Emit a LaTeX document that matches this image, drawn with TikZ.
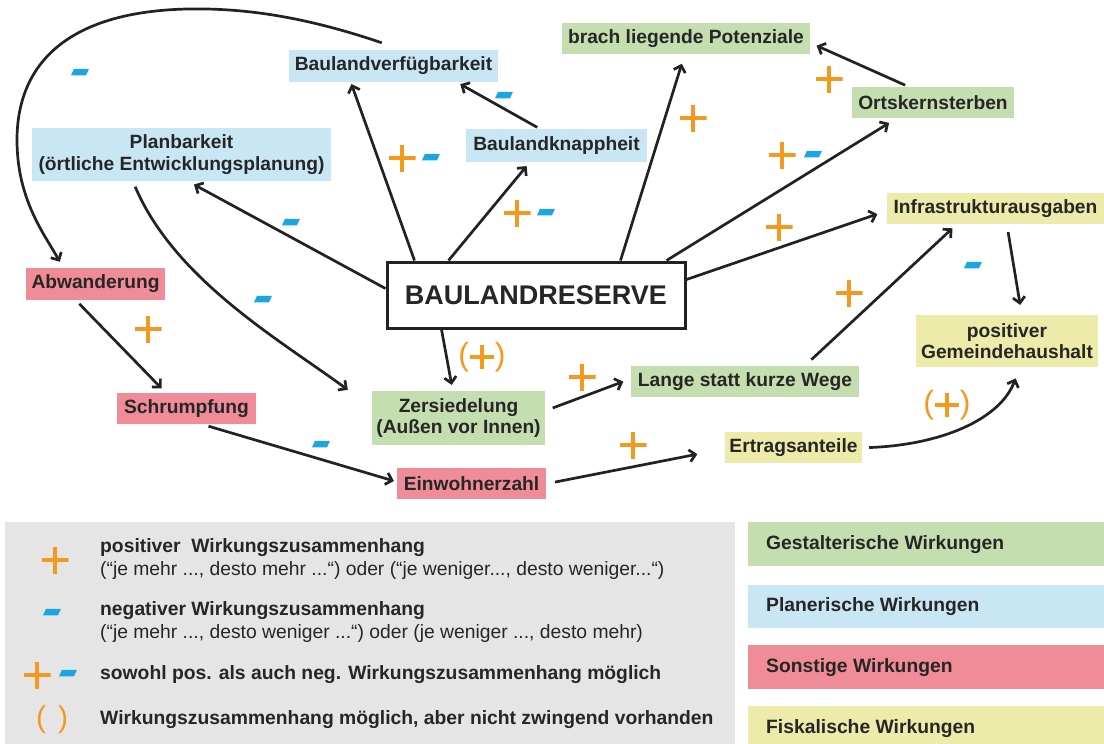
\documentclass[tikz,border=0pt]{standalone}
\usepackage{fontspec}
\setmainfont{Liberation Sans}
\usetikzlibrary{arrows.meta,calc}
\definecolor{cgreen}{HTML}{C4DEB0}
\definecolor{cblue}{HTML}{C8E6F4}
\definecolor{cred}{HTML}{F08C98}
\definecolor{cyellow}{HTML}{EDEBAA}
\definecolor{corange}{HTML}{F39A1E}
\definecolor{cdash}{HTML}{1AA7E1}
\definecolor{cline}{HTML}{222222}
\definecolor{ctext}{HTML}{262626}
\definecolor{cgray}{HTML}{E6E5E6}
\tikzset{
  box/.style={font=\bfseries\fontsize{19.2}{21.5}\selectfont, text=ctext, inner sep=0pt, align=center},
  gbox/.style={box, fill=cgreen},
  bbox/.style={box, fill=cblue},
  rbox/.style={box, fill=cred},
  ybox/.style={box, fill=cyellow},
  arr/.style={draw=cline, line width=2.7pt, -{Straight Barb[length=6pt,width=12pt]}},
  pl/.style={minimum size=27pt, inner sep=0pt, path picture={
    \draw[corange, line width=4.6pt]
      ([yshift=13.5pt]path picture bounding box.center) -- ([yshift=-13.5pt]path picture bounding box.center)
      ([xshift=-13.5pt]path picture bounding box.center) -- ([xshift=13.5pt]path picture bounding box.center);}},
  mi/.style={fill=cdash, minimum width=15pt, minimum height=6.5pt, inner sep=0pt, xslant=0.45},
  plp/.style={font=\fontsize{32}{34}\selectfont, text=corange, inner sep=0pt, path picture={
    \draw[corange, line width=4.4pt]
      ([yshift=12pt]path picture bounding box.center) -- ([yshift=-12pt]path picture bounding box.center)
      ([xshift=-12pt]path picture bounding box.center) -- ([xshift=12pt]path picture bounding box.center);}},
  legb/.style={anchor=west, font=\bfseries\fontsize{19.3}{22}\selectfont, text=ctext, inner sep=0pt},
  legn/.style={anchor=west, font=\fontsize{19.3}{22}\selectfont, text=ctext, inner sep=0pt},
  catbox/.style={anchor=north west, minimum width=356pt, inner sep=0pt},
  catt/.style={anchor=west, font=\bfseries\fontsize{19.3}{22}\selectfont, text=ctext, inner sep=0pt},
}
\begin{document}
\begin{tikzpicture}[x=1pt,y=-1pt]
\useasboundingbox (0,0) rectangle (1104,744);
\fill[white] (0,0) rectangle (1104,744);

% nodes
\node[bbox, minimum width=209pt, minimum height=32pt] (bv) at (393.5,66) {Baulandverfügbarkeit};
\node[bbox, minimum width=299pt, minimum height=53pt] (pb) at (181.5,154.5) {Planbarkeit\\(örtliche Entwicklungsplanung)};
\node[bbox, minimum width=181pt, minimum height=33pt] (bk) at (556.5,145.5) {Baulandknappheit};
\node[gbox, minimum width=248pt, minimum height=31pt] (br) at (686,38.5) {brach liegende Potenziale};
\node[gbox, minimum width=162pt, minimum height=31pt] (ok) at (933,102.5) {Ortskernsterben};
\node[ybox, minimum width=217pt, minimum height=31pt] (ii) at (995.5,208.5) {Infrastrukturausgaben};
\node[rbox, minimum width=139pt, minimum height=32pt] (ab) at (95.5,284) {Abwanderung};
\node[draw=cline, line width=3pt, fill=white, inner sep=0pt, minimum width=298pt, minimum height=66pt,
      font=\bfseries\fontsize{27}{30}\selectfont, text=ctext] (res) at (536,295) {BAULANDRESERVE};
\node[ybox, minimum width=182pt, minimum height=52pt] (pg) at (1007,341) {positiver\\Gemeindehaushalt};
\node[rbox, minimum width=139pt, minimum height=31pt] (sch) at (186.5,408.5) {Schrumpfung};
\node[gbox, minimum width=173pt, minimum height=54pt] (zs) at (458.5,418) {Zersiedelung\\(Außen vor Innen)};
\node[gbox, minimum width=228pt, minimum height=31pt] (lw) at (745,381.5) {Lange statt kurze Wege};
\node[ybox, minimum width=137pt, minimum height=31pt] (ea) at (793.5,447.5) {Ertragsanteile};
\node[rbox, minimum width=149pt, minimum height=31pt] (ew) at (471.5,483.5) {Einwohnerzahl};

% arrows
\draw[arr] ([xshift=93pt,yshift=7pt]bv.north west) .. controls (300,15) and (240,8) .. (187,9)
           .. controls (60,12) and (17,70) .. (17,140)
           .. controls (17,200) and (45,235) .. ([xshift=34pt,yshift=6pt]ab.north west);
\draw[arr, shorten >=2pt] ([xshift=29pt]res.north west) -- ([xshift=62pt]bv.south west);
\draw[arr, shorten <=3pt, shorten >=4pt] ([xshift=74pt]bk.north west) -- ([xshift=168pt]bv.south west);
\draw[arr, shorten >=5pt] ([xshift=63pt]res.north west) -- ([xshift=64pt]bk.south west);
\draw[arr, shorten >=7pt] ([yshift=-28pt]res.north west) -- ([xshift=156pt]pb.south west);
\draw[arr, shorten <=6pt] ([xshift=101pt]pb.south west) .. controls (175,280) and (280,340) .. ([xshift=-24pt,yshift=1pt]zs.north west);
\draw[arr, shorten >=10pt] ([xshift=235pt]res.north west) -- ([xshift=123pt]br.south west);
\draw[arr, shorten >=9pt] ([xshift=281pt]res.north west) -- ([xshift=45pt]ok.south west);
\draw[arr, shorten >=10pt] ([yshift=-19pt]res.north east) -- ([yshift=-18pt]ii.north west);
\draw[arr, shorten <=4pt, shorten >=7pt] ([xshift=57pt]ok.north west) -- ([yshift=-20pt]br.north east);
\draw[arr, shorten <=8pt, shorten >=10pt] ([xshift=120pt]ii.south west) -- ([xshift=106pt]pg.north west);
\draw[arr, shorten <=9pt, shorten >=6pt] ([xshift=174pt]lw.north west) -- ([xshift=70pt]ii.south west);
\draw[arr, shorten >=6pt] ([xshift=56pt]res.south west) -- ([xshift=81pt]zs.north west);
\draw[arr, shorten <=8pt, shorten >=8pt] ([yshift=-20pt]zs.north east) -- ([yshift=-13pt]lw.north west);
\draw[arr, shorten <=5pt, shorten >=6pt] ([xshift=50pt]ab.south west) -- ([xshift=49pt]sch.north west);
\draw[arr, shorten <=7pt, shorten >=3pt] ([xshift=85pt]sch.south west) -- ([yshift=-14pt]ew.north west);
\draw[arr, shorten <=9pt, shorten >=28pt] ([yshift=-16pt]ew.north east) -- ([yshift=-17pt]ea.north west);
\draw[arr, shorten <=7pt, shorten >=12pt] ([yshift=-16pt]ea.north east) .. controls (940,445) and (1000,420) .. ([xshift=104pt]pg.south west);

% labels
\node[mi] (l1) at (80,72) {};
\node[pl] (l2p) at (402,158) {};
\node[mi] (l2m) at (431,157) {};
\node[mi] (l3) at (504,95) {};
\node[pl] (l4p) at (517,213) {};
\node[mi] (l4m) at (546,212) {};
\node[mi] (l5) at (291,222) {};
\node[mi] (l6) at (263,299) {};
\node[pl] (l7) at (693,118) {};
\node[pl] (l8p) at (782,155) {};
\node[mi] (l8m) at (813,154) {};
\node[pl] (l9) at (779,227) {};
\node[pl] (l10) at (829,79) {};
\node[mi] (l11) at (973,265) {};
\node[pl] (l12) at (849,293) {};
\node[plp] (l13) at (482,357) {(\hspace{26pt})};
\node[pl] (l14) at (582,377) {};
\node[pl] (l15) at (148,329) {};
\node[mi] (l16) at (321,444) {};
\node[pl] (l17) at (633,445) {};
\node[plp] (l18) at (947,405) {(\hspace{26pt})};

% legend
\fill[cgray] (5,522) rectangle (735,744);
\node[pl] (k1) at (55,560) {};
\node[legb] (k1a) at (100,548) {positiver\ \ Wirkungszusammenhang};
\node[legn] (k1b) at (100,571) {(“je mehr ..., desto mehr ...“) oder (“je weniger..., desto weniger...“)};
\node[mi] (k2) at (52,612) {};
\node[legb] (k2a) at (100,611) {negativer Wirkungszusammenhang};
\node[legn] (k2b) at (100,634) {(“je mehr ..., desto weniger ...“) oder (je weniger ..., desto mehr)};
\node[pl] (k3p) at (37,675) {};
\node[mi] (k3m) at (68,673) {};
\node[legb] (k3a) at (100,675) {sowohl pos. als auch neg. Wirkungszusammenhang möglich};
\node[font=\fontsize{30}{32}\selectfont, text=corange, inner sep=0pt] (k4) at (52,720) {(\hspace{12pt})};
\node[legb] (k4a) at (100,720) {Wirkungszusammenhang möglich, aber nicht zwingend vorhanden};

\node[catbox, fill=cgreen, minimum height=44pt] (c1) at (748,522) {};
\node[catt] at ([xshift=18pt]c1.west) (c1t) {Gestalterische Wirkungen};
\node[catbox, fill=cblue, minimum height=43pt] (c2) at (748,585) {};
\node[catt] at ([xshift=18pt]c2.west) (c2t) {Planerische Wirkungen};
\node[catbox, fill=cred, minimum height=44pt] (c3) at (748,645) {};
\node[catt] at ([xshift=18pt]c3.west) (c3t) {Sonstige Wirkungen};
\node[catbox, fill=cyellow, minimum height=38pt] (c4) at (748,706) {};
\node[catt] at ([xshift=18pt,yshift=-3pt]c4.west) (c4t) {Fiskalische Wirkungen};
\end{tikzpicture}
\end{document}
